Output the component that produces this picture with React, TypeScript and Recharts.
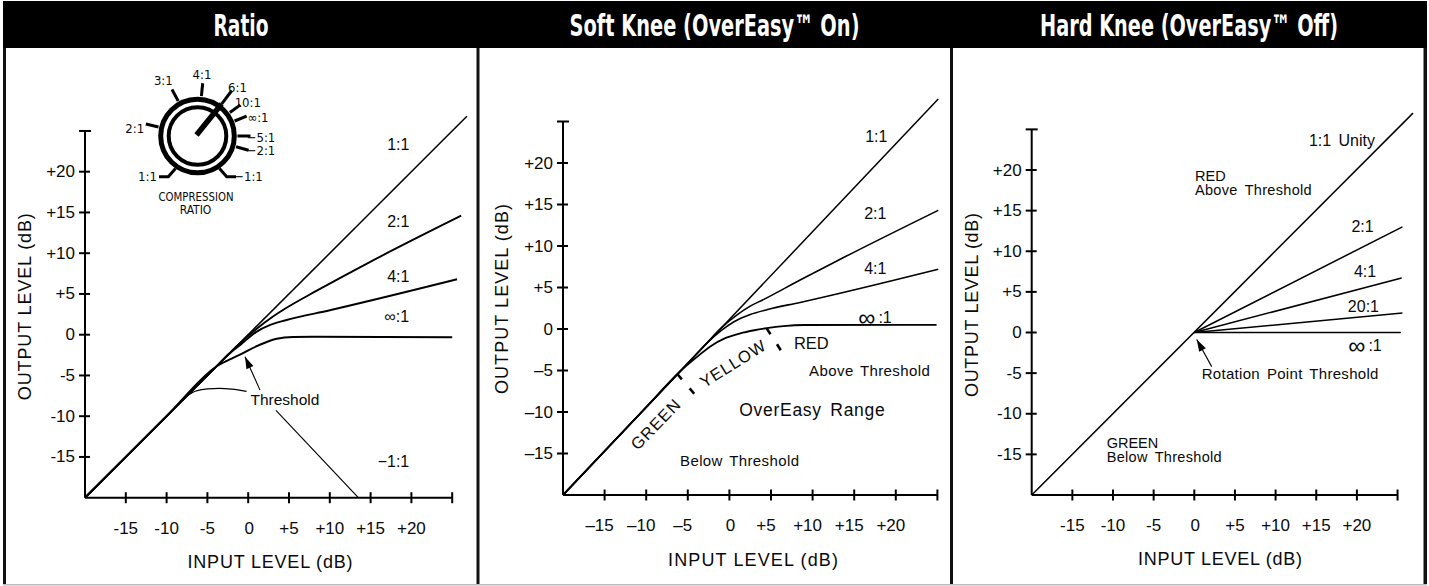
import React from 'react';
import { LineChart, Line, XAxis, YAxis, ReferenceLine, ReferenceDot } from 'recharts';

type Pt = [number, number];

// input dB -> output dB
// Ratio panel
const ratioUnity: Pt[] = [[-20, -20], [26.8, 26.8]];
const ratio2to1: Pt[] = [[-20, -20], [-10, -10], [-3, -3], [-1.5, -1.5], [1, 0.7], [3, 2.2], [4.7, 3.3], [8.4, 5.4], [14.5, 8.7], [26.1, 14.6]];
const ratio4to1: Pt[] = [[-20, -20], [-10, -10], [-4, -4], [-2.5, -2.5], [-0.8, -1.1], [1, 0.35], [2.7, 1.2], [4.7, 1.8], [10, 3.0], [25.6, 6.8]];
const ratioInf: Pt[] = [[-20, -20], [-10, -10], [-3.9, -3.9], [-1, -2.45], [1.5, -1.2], [3.5, -0.5], [5.5, -0.28], [8, -0.25], [25, -0.3]];
const ratioNegArc: Pt[] = [[-7.6, -7.6], [-6.5, -6.95], [-5, -6.65], [-3.5, -6.58], [-2, -6.68], [-0.2, -6.95]];
const ratioNegLine: Pt[] = [[3.4, -9.3], [13.5, -20]];

// Soft knee panel
const softUnity: Pt[] = [[-20, -20], [25.1, 27.7]];
const soft2to1: Pt[] = [[-20, -20], [-10, -9.42], [-3, -2.01], [-1, 0.1], [1, 1.75], [2.5, 2.75], [4.2, 3.6], [8.5, 5.9], [13.9, 8.7], [25.1, 14.3]];
const soft4to1: Pt[] = [[-20, -20], [-10, -9.42], [-4.5, -3.6], [-2.7, -1.7], [-1, -0.2], [0.5, 0.85], [2.5, 1.75], [4.6, 2.35], [8.5, 3.2], [25.1, 7.2]];
const softInf: Pt[] = [[-20, -20], [-10, -9.42], [-5.9, -5.08], [-4, -3.45], [-2.3, -2.1], [-0.5, -1.1], [1.3, -0.52], [3, -0.15], [4.5, 0.1], [6.5, 0.35], [9, 0.48], [24.9, 0.5]];

// Hard knee panel
const hardUnity: Pt[] = [[-20, -20], [26.9, 27]];
const hard2to1: Pt[] = [[0, 0], [25.6, 13.0]];
const hard4to1: Pt[] = [[0, 0], [25.5, 6.7]];
const hard20to1: Pt[] = [[0, 0], [25.6, 2.4]];
const hardInf: Pt[] = [[0, 0], [25.4, 0]];

const xTicks = [-15, -10, -5, 0, 5, 10, 15, 20, 25];
const yTicks = [-15, -10, -5, 0, 5, 10, 15, 20, 25];

// compression ratio knob
const dialLabels: [string, number, number][] = [
  ['2:1', 134.7, 128.3], ['3:1', 163.3, 80], ['4:1', 202, 74], ['6:1', 237.5, 87.3],
  ['10:1', 247.8, 102.7], ['∞:1', 258, 117.3], ['−5:1', 261, 137.3], ['−2:1', 261, 150],
  ['1:1', 147.5, 176.7], ['−1:1', 248.5, 176.7],
];
const dialTickAngles = [167, 118.8, 84.4, 36, 22, 0, -15.6];

const SANS = "'Liberation Sans', Arial, Helvetica, sans-serif";
const NARROW = "'Liberation Sans Narrow', 'Arial Narrow', 'DejaVu Sans Condensed', sans-serif";
const INK = '#0a0a0a';
const TOP = 48; // charts sit under the black title band

const toRows = (d: Pt[]) => d.map(([x, y]) => ({ x, y }));
const fmt = (v: number, minus: string) => (v > 0 ? `+${v}` : v < 0 ? `${minus}${-v}` : '0');

const XTick = (p: any) => {
  const { x, y, payload, minus, dx } = p;
  const v = payload.value;
  return (
    <g>
      <line x1={x} x2={x} y1={y - 5.5} y2={y + 5.5} stroke="#000" strokeWidth={2} />
      {v < 25 && (
        <text x={x + (v === 0 ? 1 : dx)} y={y + 30.5} textAnchor="middle" dominantBaseline="central"
          fontFamily={SANS} fontSize={17} fill={INK}>{fmt(v, minus)}</text>
      )}
    </g>
  );
};

const YTick = (p: any) => {
  const { x, y, payload, minus } = p;
  const v = payload.value;
  if (v === 25) return <line x1={x - 6} x2={x + 6} y1={y} y2={y} stroke="#000" strokeWidth={2} />;
  return (
    <g>
      <line x1={x - 6} x2={x + 5} y1={y} y2={y} stroke="#000" strokeWidth={2} />
      <text x={x - 10} y={y} textAnchor="end" dominantBaseline="central" fontFamily={SANS} fontSize={17} fill={INK}>
        {fmt(v, minus)}
      </text>
    </g>
  );
};

const note = (key: string, x: number, y: number, content: React.ReactNode, o: any = {}) => (
  <ReferenceDot key={key} x={x} y={y} r={1} ifOverflow="visible"
    shape={(p: any) => (
      <text x={p.cx} y={p.cy} textAnchor={o.anchor ?? 'middle'} dominantBaseline="central" fontFamily={SANS}
        fontSize={o.size ?? 15} fill={INK} letterSpacing={o.ls} wordSpacing={o.ws}
        transform={o.rot ? `rotate(${o.rot} ${p.cx} ${p.cy})` : undefined}>
        {content}
      </text>
    )} />
);

const arrow = (key: string, tail: Pt, tip: Pt) => {
  const dx = tip[0] - tail[0];
  const dy = -(tip[1] - tail[1]);
  const len = Math.hypot(dx, dy);
  const ux = dx / len, uy = dy / len;
  return [
    <ReferenceLine key={key + 'l'} segment={[{ x: tail[0], y: tail[1] }, { x: tip[0], y: tip[1] }]}
      stroke="#000" strokeWidth={1.1} ifOverflow="visible" />,
    <ReferenceDot key={key + 'h'} x={tip[0]} y={tip[1]} r={1} ifOverflow="visible"
      shape={(p: any) => {
        const L = 12, W = 3.8;
        const bx = p.cx - ux * L, by = p.cy - uy * L;
        return <polygon points={`${p.cx},${p.cy} ${bx - uy * W},${by + ux * W} ${bx + uy * W},${by - ux * W}`} fill="#000" />;
      }} />,
  ];
};

const dash = (key: string, a: Pt, b: Pt) => (
  <ReferenceLine key={key} segment={[{ x: a[0], y: a[1] }, { x: b[0], y: b[1] }]} stroke="#000"
    strokeWidth={2.6} strokeDasharray="7 12" ifOverflow="visible" />
);

const inf = (
  <>
    <tspan fontSize={24}>∞</tspan>
    <tspan dx={3}>:1</tspan>
  </>
);

type Series = { d: Pt[]; w: number; curve: 'monotone' | 'linear' };

function Panel(props: {
  left: number; width: number; axisX: number; axisY: number; kx: number; ky: number;
  xMax: number; yMax: number; minus: string; labelDx: number; lines: Series[]; children?: React.ReactNode;
}) {
  const { left, width, axisX, axisY, kx, ky, xMax, yMax, minus, labelDx, lines, children } = props;
  const H = 586 - TOP;
  const plotRight = axisX + (xMax + 20) * kx;
  const plotTop = axisY - (yMax + 20) * ky - TOP;
  const margin = { top: plotTop, bottom: H - (axisY - TOP) - 30, left: axisX - left - 60, right: left + width - plotRight };
  return (
    <div style={{ position: 'absolute', left, top: TOP, width, height: H }}>
      <LineChart width={width} height={H} margin={margin}>
        <XAxis type="number" dataKey="x" domain={[-20, xMax]} allowDataOverflow ticks={xTicks} interval={0}
          height={30} tickSize={0} tickMargin={0} axisLine={false} tickLine={false}
          tick={(p: any) => <XTick {...p} minus={minus} dx={labelDx} />} />
        <YAxis type="number" dataKey="y" domain={[-20, yMax]} allowDataOverflow ticks={yTicks} interval={0}
          width={60} tickSize={0} tickMargin={0} axisLine={false} tickLine={false}
          tick={(p: any) => <YTick {...p} minus={minus} />} />
        <ReferenceLine segment={[{ x: -20, y: -20 }, { x: 25, y: -20 }]} stroke="#000" strokeWidth={2} ifOverflow="visible" />
        <ReferenceLine segment={[{ x: -20, y: -20 }, { x: -20, y: 25 }]} stroke="#000" strokeWidth={2} ifOverflow="visible" />
        {lines.map((l, i) => (
          <Line key={i} data={toRows(l.d)} dataKey="y" type={l.curve} stroke="#000" strokeWidth={l.w}
            dot={false} activeDot={false} isAnimationActive={false} />
        ))}
        {children}
      </LineChart>
    </div>
  );
}

function Dial() {
  const cx = 197.5, cy = 136;
  const pol = (r: number, a: number) => [cx + r * Math.cos((a * Math.PI) / 180), cy - r * Math.sin((a * Math.PI) / 180)];
  const [p1x, p1y] = pol(40, 53);
  const [p2x, p2y] = pol(57, 53);
  return (
    <g>
      {dialTickAngles.map((a, i) => {
        const [ax, ay] = pol(40, a);
        const [bx, by] = pol(53, a);
        return <line key={i} x1={ax} y1={ay} x2={bx} y2={by} stroke="#000" strokeWidth={3} />;
      })}
      <polyline points="175.5,168.5 168.3,176.7 159,176.7" fill="none" stroke="#000" strokeWidth={3} />
      <polyline points="219.5,168.5 226.7,176.7 236,176.7" fill="none" stroke="#000" strokeWidth={3} />
      <circle cx={cx} cy={cy} r={36.8} fill="#fff" stroke="#000" strokeWidth={5} />
      <circle cx={cx} cy={cy} r={28.8} fill="#fff" stroke="#000" strokeWidth={4} />
      <line x1={cx - 1} y1={cy - 1} x2={p1x} y2={p1y} stroke="#000" strokeWidth={5.5} />
      <line x1={p1x} y1={p1y} x2={p2x} y2={p2y} stroke="#000" strokeWidth={3} />
      {dialLabels.map(([t, x, y]) => (
        <text key={t} x={x} y={y} textAnchor="middle" dominantBaseline="central" fontFamily={NARROW} fontSize={13} fill={INK}>{t}</text>
      ))}
      <text x={196} y={196.7} textAnchor="middle" dominantBaseline="central" fontFamily={NARROW} fontSize={12}
        textLength={75} lengthAdjust="spacingAndGlyphs" fill={INK}>COMPRESSION</text>
      <text x={195.5} y={209.7} textAnchor="middle" dominantBaseline="central" fontFamily={NARROW} fontSize={12} fill={INK}>RATIO</text>
    </g>
  );
}

function Frame() {
  const titles: [string, number, number][] = [
    ['Ratio', 241, 55], ['Soft Knee (OverEasy™ On)', 714.5, 290], ['Hard Knee (OverEasy™ Off)', 1189, 298],
  ];
  const xTitles: [number, number, number][] = [[270, 561.7, 165], [753, 560, 170], [1220, 559.3, 164]];
  const yTitles: [number, number, number][] = [[25, 306.7, 187], [502, 299, 190], [971.7, 305, 184]];
  return (
    <svg width={1429} height={586} style={{ position: 'absolute', left: 0, top: 0 }}>
      <rect x={0} y={0} width={1429} height={586} fill="#fff" />
      <rect x={3} y={1} width={1424} height={47} fill="#000" />
      {titles.map(([t, x, w]) => (
        <text key={t} x={x} y={36.5} textAnchor="middle" fill="#fff" fontFamily={NARROW} fontWeight="bold"
          fontSize={27} textLength={w} lengthAdjust="spacingAndGlyphs" transform={`translate(0 ${-36.5 * 0.1}) scale(1 1.1)`}>{t}</text>
      ))}
      <rect x={3} y={48} width={3} height={536} fill="#111" />
      <rect x={476.5} y={48} width={3} height={536} fill="#111" />
      <rect x={950} y={48} width={3} height={536} fill="#111" />
      <rect x={1423.5} y={48} width={3.5} height={536} fill="#111" />
      <rect x={3} y={584} width={1424} height={1.5} fill="#bbb" />
      {xTitles.map(([x, y, w], i) => (
        <text key={i} x={x} y={y} textAnchor="middle" dominantBaseline="central" fontFamily={SANS} fontSize={18}
          textLength={w} lengthAdjust="spacing" fill={INK}>INPUT LEVEL (dB)</text>
      ))}
      {yTitles.map(([x, y, w], i) => (
        <text key={i} x={x} y={y} textAnchor="middle" dominantBaseline="central" fontFamily={SANS} fontSize={18}
          textLength={w} lengthAdjust="spacing" fill={INK} transform={`rotate(-90 ${x} ${y})`}>OUTPUT LEVEL (dB)</text>
      ))}
      <Dial />
    </svg>
  );
}

export default function App() {
  return (
    <div style={{ position: 'absolute', left: 0, top: 0, width: 1429, height: 586, background: '#fff' }}>
      <Frame />

      <Panel left={6} width={470} axisX={85} axisY={497.7} kx={8.16} ky={8.15} xMax={27} yMax={27} minus="-" labelDx={0}
        lines={[
          { d: ratioUnity, w: 1.5, curve: 'linear' },
          { d: ratio2to1, w: 1.9, curve: 'monotone' },
          { d: ratio4to1, w: 1.9, curve: 'monotone' },
          { d: ratioInf, w: 2, curve: 'monotone' },
          { d: ratioNegArc, w: 1.1, curve: 'monotone' },
          { d: ratioNegLine, w: 1.1, curve: 'linear' },
        ]}>
        {note('r1', 18.4, 23.3, '1:1', { size: 16 })}
        {note('r2', 18.4, 13.9, '2:1', { size: 16 })}
        {note('r4', 18.4, 7.2, '4:1', { size: 16 })}
        {note('ri', 18.2, 2.2, '∞:1', { size: 16 })}
        {note('rn', 17.8, -15.6, '−1:1', { size: 16 })}
        {note('rt', 4.5, -8.0, 'Threshold', { size: 15.5 })}
        {arrow('ra', [1.45, -6.8], [-0.39, -2.7])}
      </Panel>

      <Panel left={480} width={470} axisX={563} axisY={495} kx={8.32} ky={8.3} xMax={26} yMax={28} minus="–" labelDx={-5}
        lines={[
          { d: softUnity, w: 1.5, curve: 'linear' },
          { d: soft2to1, w: 1.6, curve: 'monotone' },
          { d: soft4to1, w: 1.6, curve: 'monotone' },
          { d: softInf, w: 1.8, curve: 'monotone' },
        ]}>
        {note('s1', 17.66, 23.25, '1:1', { size: 16 })}
        {note('s2', 17.54, 13.86, '2:1', { size: 16 })}
        {note('s4', 17.54, 7.23, '4:1', { size: 16 })}
        {note('si', 17.5, 1.4, inf, { size: 16 })}
        {note('sr', 9.85, -1.65, 'RED', { size: 16.5 })}
        {note('sy', 0.43, -4.13, 'YELLOW', { size: 16.5, ls: 1, rot: -32 })}
        {note('sg', -8.86, -11.45, 'GREEN', { size: 16.5, ls: 1, rot: -46 })}
        {note('sa', 16.86, -5.06, 'Above Threshold', { ls: 0.4, ws: 2 })}
        {note('so', 9.97, -9.76, 'OverEasy Range', { size: 17.5, ls: 0.7, ws: 3 })}
        {note('sb', 1.24, -15.8, 'Below Threshold', { ls: 0.4, ws: 2 })}
        {dash('d1', [-6.26, -5.42], [-3.85, -8.25])}
        {dash('d2', [4.48, 0.08], [6.4, -2.9])}
      </Panel>

      <Panel left={953} width={470} axisX={1031.7} axisY={495} kx={8.13} ky={8.125} xMax={27.5} yMax={27.5} minus="-" labelDx={0}
        lines={[
          { d: hardUnity, w: 1.5, curve: 'linear' },
          { d: hard2to1, w: 1.5, curve: 'linear' },
          { d: hard4to1, w: 1.5, curve: 'linear' },
          { d: hard20to1, w: 1.5, curve: 'linear' },
          { d: hardInf, w: 1.5, curve: 'linear' },
        ]}>
        {note('h1', 22.23, 23.69, '1:1 Unity', { anchor: 'end', size: 16, ws: 3 })}
        {note('h2', 20.7, 13.0, '2:1', { size: 16 })}
        {note('h4', 21.0, 7.5, '4:1', { size: 16 })}
        {note('h20', 20.8, 3.26, '20:1', { size: 16 })}
        {note('hi', 21.0, -1.5, inf, { size: 16 })}
        {note('hr', 0.09, 19.26, 'RED', { anchor: 'start', size: 14.5 })}
        {note('ha', 0.09, 17.54, 'Above Threshold', { anchor: 'start', size: 14.5, ls: 0.3, ws: 3 })}
        {note('hg', -10.78, -13.64, 'GREEN', { anchor: 'start', size: 14.5 })}
        {note('hb', -10.78, -15.29, 'Below Threshold', { anchor: 'start', size: 14.5, ls: 0.3, ws: 3 })}
        {note('hp', 0.91, -5.1, 'Rotation Point Threshold', { anchor: 'start', ls: 0.3, ws: 2.5 })}
        {arrow('ha2', [2.14, -4.2], [0.3, -0.86])}
      </Panel>
    </div>
  );
}
